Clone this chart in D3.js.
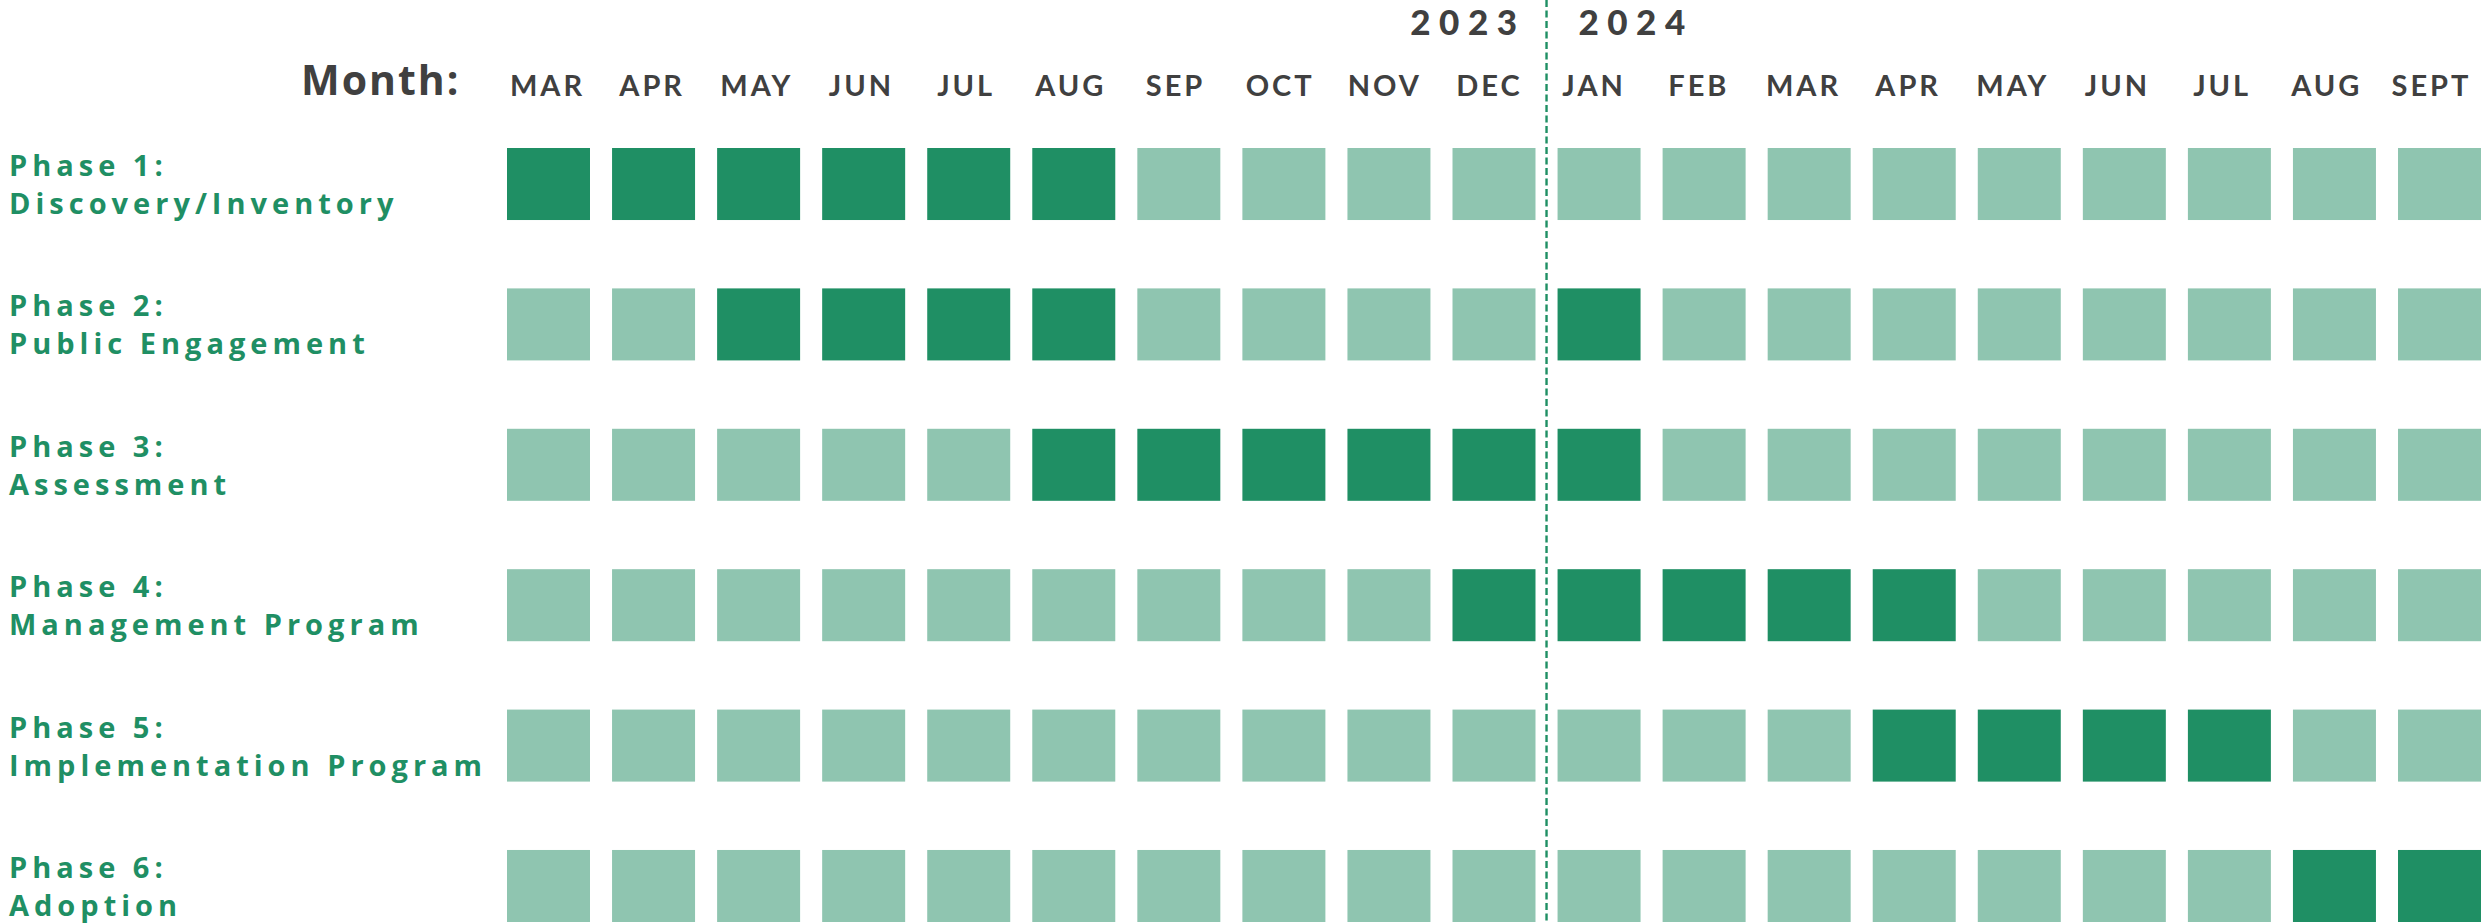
<!DOCTYPE html>
<html>
<head>
<meta charset="utf-8">
<script src="https://cdn.jsdelivr.net/npm/d3@7"></script>
<style>
    html, body { margin: 0; padding: 0; background: #ffffff; }
    svg { display: block; }
</style>
</head>
<body>
<div id="chartDiv"></div>
<script>
// chart data
var months = ["MAR", "APR", "MAY", "JUN", "JUL", "AUG", "SEP", "OCT", "NOV", "DEC",
              "JAN", "FEB", "MAR", "APR", "MAY", "JUN", "JUL", "AUG", "SEPT"];
var years = ["2023", "2024"];
var yearBreak = 10; // index of first month of 2024
var phaseTitles = ["Phase 1:", "Phase 2:", "Phase 3:", "Phase 4:", "Phase 5:", "Phase 6:"];
var phaseNames = ["Discovery/Inventory", "Public Engagement", "Assessment",
                  "Management Program", "Implementation Program", "Adoption"];
// months (by index) each phase is active
var activeMonths = [
    [0, 1, 2, 3, 4, 5],
    [2, 3, 4, 5, 10],
    [5, 6, 7, 8, 9, 10],
    [9, 10, 11, 12, 13],
    [13, 14, 15, 16],
    [17, 18]
];

var width = 2484, height = 923;
var darkGreen = "#1f8f64", lightGreen = "#8fc5b0", textGrey = "#404040";

var svg = d3.select("#chartDiv").append("svg")
    .attr("width", width)
    .attr("height", height);

var x = d3.scaleBand()
    .domain(d3.range(months.length))
    .range([507, 2481])
    .paddingInner(0.21)
    .paddingOuter(0);

// month labels sit a touch left of the cell centres, drifting slightly
var xLabel = d3.scalePoint()
    .domain(d3.range(months.length))
    .range([546, 2430]);

var y = d3.scaleBand()
    .domain(d3.range(phaseTitles.length))
    .range([148, 922])
    .paddingInner(0.487)
    .paddingOuter(0);

// build cells
var cells = [];
phaseTitles.forEach(function (p, i) {
    months.forEach(function (m, j) {
        cells.push({ row: i, col: j, on: activeMonths[i].indexOf(j) >= 0 });
    });
});

svg.append("g").selectAll("rect")
    .data(cells)
    .enter().append("rect")
    .attr("x", function (d) { return x(d.col); })
    .attr("y", function (d) { return y(d.row); })
    .attr("width", x.bandwidth())
    .attr("height", y.bandwidth())
    .attr("fill", function (d) { return d.on ? darkGreen : lightGreen; });

// month labels
svg.append("g").selectAll("text")
    .data(months)
    .enter().append("text")
    .attr("x", function (d, i) { return xLabel(i) + 1.5; })
    .attr("y", 96)
    .attr("text-anchor", "middle")
    .style("font-family", "Lato, sans-serif")
    .style("font-weight", 700)
    .style("font-size", "29px")
    .style("letter-spacing", "3px")
    .style("fill", textGrey)
    .text(function (d) { return d; });

svg.append("text")
    .attr("x", 301)
    .attr("y", 95)
    .style("font-family", "'Open Sans', sans-serif")
    .style("font-weight", 700)
    .style("font-size", "41px")
    .style("letter-spacing", "2px")
    .style("fill", textGrey)
    .text("Month:");

// year divider
var lineX = (x(yearBreak - 1) + x.bandwidth() + x(yearBreak)) / 2;
svg.append("line")
    .attr("x1", lineX).attr("x2", lineX)
    .attr("y1", 0).attr("y2", height)
    .attr("stroke", darkGreen)
    .attr("stroke-width", 2.4)
    .attr("stroke-dasharray", "7,3.5");

svg.append("g").selectAll("text")
    .data(years)
    .enter().append("text")
    .attr("x", function (d, i) { return i === 0 ? lineX - 21 : lineX + 32; })
    .attr("y", 35)
    .attr("text-anchor", function (d, i) { return i === 0 ? "end" : "start"; })
    .style("font-family", "Lato, sans-serif")
    .style("font-weight", 900)
    .style("font-size", "35px")
    .style("letter-spacing", "8.5px")
    .style("fill", textGrey)
    .text(function (d) { return d; });

// phase labels
var labels = svg.append("g").selectAll("text")
    .data(phaseTitles)
    .enter().append("text")
    .attr("x", 9)
    .attr("y", function (d, i) { return y(i) + 28; })
    .style("font-family", "'Open Sans', sans-serif")
    .style("font-weight", 700)
    .style("font-size", "29px")
    .style("letter-spacing", "5px")
    .style("fill", darkGreen);

labels.append("tspan")
    .attr("x", 9)
    .text(function (d) { return d; });
labels.append("tspan")
    .attr("x", 9)
    .attr("dy", 38)
    .text(function (d, i) { return phaseNames[i]; });
</script>
</body>
</html>
